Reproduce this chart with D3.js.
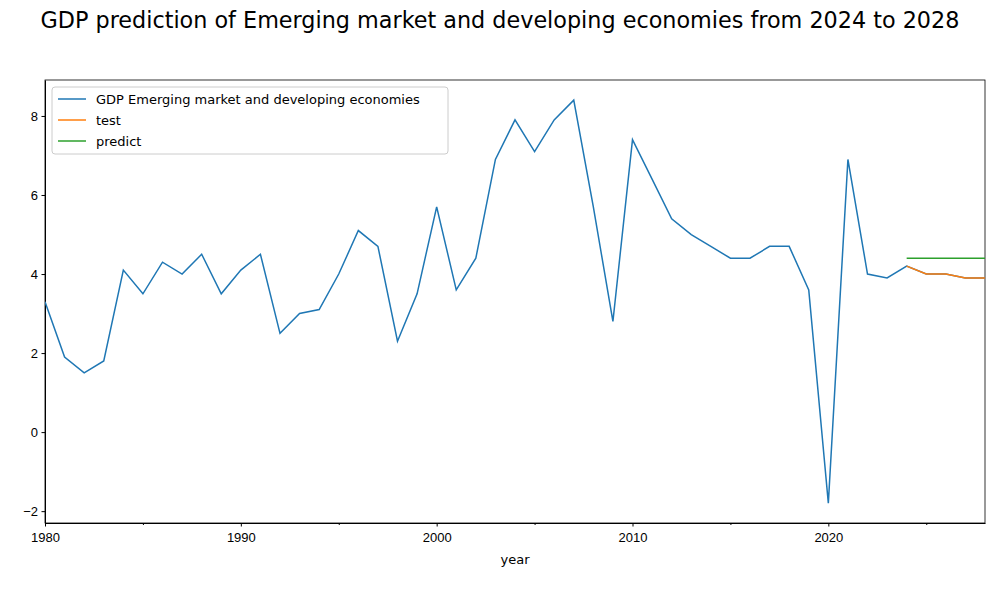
<!DOCTYPE html>
<html>
<head>
<meta charset="utf-8">
<script src="https://cdn.jsdelivr.net/npm/d3@7"></script>
<style>
  body { margin: 0; background: #fff; font-family: "DejaVu Sans", sans-serif; }
</style>
</head>
<body>
<div id="chart"></div>
<script>
const years = d3.range(1980, 2029)
const gdp = [3.3, 1.9, 1.5, 1.8, 4.1, 3.5, 4.3, 4.0, 4.5, 3.5,
  4.1, 4.5, 2.5, 3.0, 3.1, 4.0, 5.1, 4.7, 2.3, 3.5,
  5.7, 3.6, 4.4, 6.9, 7.9, 7.1, 7.9, 8.4, 5.7, 2.8,
  7.4, 6.4, 5.4, 5.0, 4.7, 4.4, 4.4, 4.7, 4.7, 3.6,
  -1.8, 6.9, 4.0, 3.9, 4.2, 4.0, 4.0, 3.9, 3.9]
const testYears = [2024, 2025, 2026, 2027, 2028]
const testVals = [4.2, 4.0, 4.0, 3.9, 3.9]
const predictVals = [4.4, 4.4, 4.4, 4.4, 4.4]
const seriesNames = ["GDP Emerging market and developing economies", "test", "predict"]
const colors = ["#1f77b4", "#ff7f0e", "#2ca02c"]

const MARGIN = { LEFT: 45, RIGHT: 15, TOP: 80, BOTTOM: 77 }
const WIDTH = 1000 - MARGIN.LEFT - MARGIN.RIGHT
const HEIGHT = 600 - MARGIN.TOP - MARGIN.BOTTOM

const svg = d3.select("#chart").append("svg").attr("width", 1000).attr("height", 600)
  .style("font-family", "DejaVu Sans, sans-serif")

svg.append("text").attr("x", 500).attr("y", 28).attr("text-anchor", "middle")
  .attr("font-size", "22.3px").text("GDP prediction of Emerging market and developing economies from 2024 to 2028")

const g = svg.append("g").attr("transform", `translate(${MARGIN.LEFT}, ${MARGIN.TOP})`)

const x = d3.scaleLinear().domain([1980, 2028]).range([0, WIDTH])
const y = d3.scaleLinear().domain([-2.3, 8.91]).range([HEIGHT, 0])

g.append("g").attr("transform", `translate(0, ${HEIGHT})`)
  .call(d3.axisBottom(x).tickValues([1980, 1990, 2000, 2010, 2020]).tickFormat(d3.format("d")).tickSizeInner(3.5).tickSizeOuter(0).tickPadding(6))
g.append("g").attr("transform", `translate(0, ${HEIGHT})`)
  .call(d3.axisBottom(x).tickValues([1985, 1995, 2005, 2015, 2025]).tickFormat("").tickSize(2))
  .select(".domain").remove()
g.append("g")
  .call(d3.axisLeft(y).tickValues([-2, 0, 2, 4, 6, 8]).tickFormat(d => d < 0 ? "\u2212" + Math.abs(d) : d).tickSizeInner(3.5).tickSizeOuter(0).tickPadding(3.5))
g.selectAll(".tick text").attr("font-size", "13px").attr("fill", "#000")

g.append("rect").attr("width", WIDTH).attr("height", HEIGHT).attr("fill", "none").attr("stroke", "#000").attr("stroke-width", 0.8)

g.append("text").attr("x", WIDTH / 2).attr("y", HEIGHT + 41).attr("text-anchor", "middle")
  .attr("font-size", "13px").text("year")

const line = d3.line().x(d => x(d[0])).y(d => y(d[1]))
const data = [
  years.map((yr, i) => [yr, gdp[i]]),
  testYears.map((yr, i) => [yr, testVals[i]]),
  testYears.map((yr, i) => [yr, predictVals[i]])
]
svg.append("clipPath").attr("id", "clip").append("rect").attr("width", WIDTH).attr("height", HEIGHT)
g.append("g").attr("clip-path", "url(#clip)").selectAll("path").data(data).join("path")
  .attr("d", line).attr("fill", "none").attr("stroke", (d, i) => colors[i]).attr("stroke-width", 1.5)

// legend
const leg = g.append("g").attr("transform", "translate(7, 7)")
leg.append("rect").attr("width", 396).attr("height", 67).attr("rx", 3)
  .attr("fill", "#fff").attr("fill-opacity", 0.8).attr("stroke", "#ccc")
seriesNames.forEach((name, i) => {
  const yy = 12 + i * 21
  leg.append("line").attr("x1", 6).attr("x2", 34).attr("y1", yy).attr("y2", yy)
    .attr("stroke", colors[i]).attr("stroke-width", 1.5)
  leg.append("text").attr("x", 44).attr("y", yy + 4.5).attr("font-size", "13px").text(name)
})
</script>
</body>
</html>
